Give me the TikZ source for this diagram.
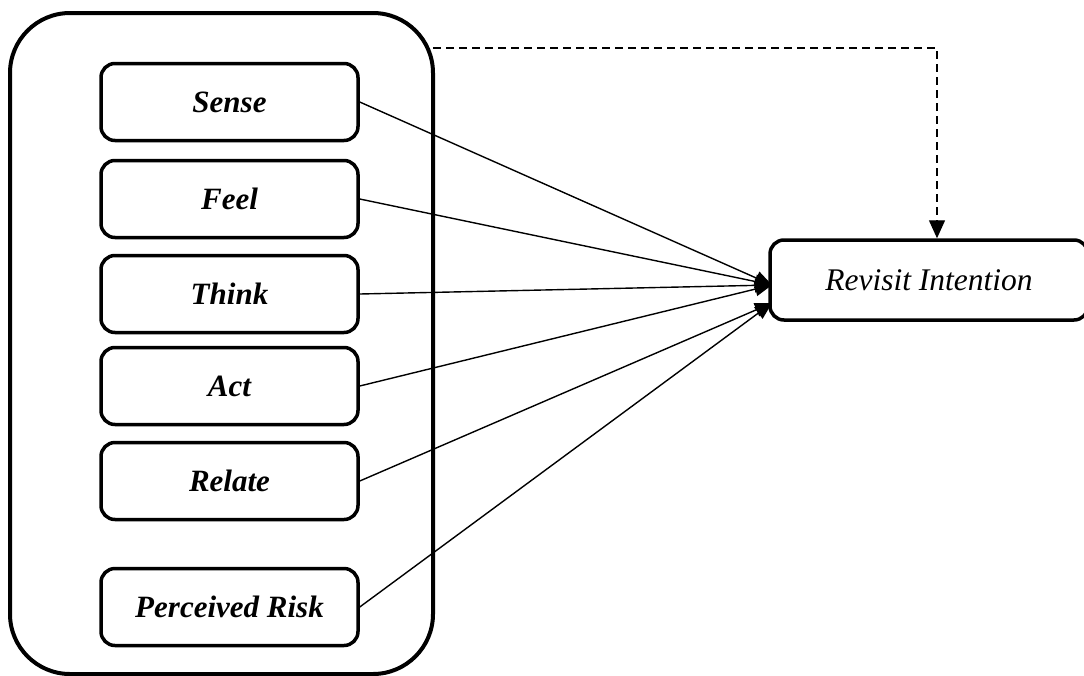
\documentclass[tikz,border=0pt]{standalone}
\usepackage{fontspec}
\setmainfont{Liberation Serif}
\usetikzlibrary{arrows.meta}
\begin{document}
\begin{tikzpicture}[x=1pt,y=-1pt,
  outerbox/.style={draw,line width=4pt,rounded corners=60pt},
  varbox/.style={draw,line width=3.5pt,rounded corners=14pt,minimum width=257pt,minimum height=77pt,inner sep=0pt,font=\fontsize{31}{36}\selectfont\bfseries\itshape},
  depbox/.style={draw,line width=3.5pt,rounded corners=14pt,minimum width=318pt,minimum height=80pt,inner sep=0pt,font=\fontsize{31.5}{36}\selectfont\itshape},
  link/.style={line width=1.4pt,-{Triangle[length=17pt,width=14pt]}},
  dlink/.style={line width=1.4pt,dash pattern=on 8pt off 5pt,-{Triangle[length=18pt,width=16pt]}}]
\useasboundingbox[fill=white] (0,0) rectangle (1084,675);
\node[outerbox,minimum width=423pt,minimum height=661pt,inner sep=0pt] (outer) at (221.5,343.5) {};
\node[varbox] (sense) at (229.5,102) {Sense};
\node[varbox] (feel) at (229.5,199) {Feel};
\node[varbox] (think) at (229.5,294) {Think};
\node[varbox] (act) at (229.5,386) {Act};
\node[varbox] (relate) at (229.5,481) {Relate};
\node[varbox] (risk) at (229.5,607) {Perceived Risk};
\node[depbox] (ri) at (929,280) {Revisit Intention};
\coordinate (t1) at (772,285);
\coordinate (t2) at (772,303);
\draw[link] (sense.east) -- (t1);
\draw[link] (feel.east) -- (t1);
\draw[link] (think.east) -- (t1);
\draw[link] (act.east) -- (t1);
\draw[link] (relate.east) -- (t2);
\draw[link] (risk.east) -- (t2);
\coordinate (d0) at (433,48);
\draw[dlink] (d0) -| (ri.north -| 937,0);
\end{tikzpicture}
\end{document}
